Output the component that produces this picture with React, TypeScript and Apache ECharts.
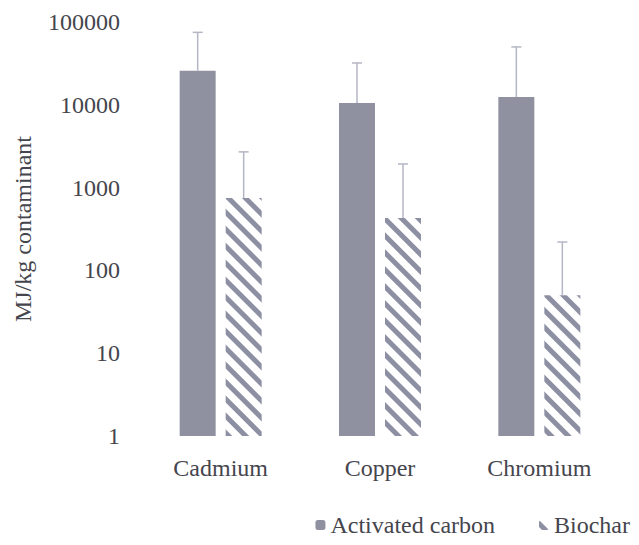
import React, { useEffect, useRef } from "react";
import * as echarts from "echarts";

const categories = ["Cadmium", "Copper", "Chromium"];
const seriesNames = ["Activated carbon", "Biochar"];
const activatedCarbon = [25700, 10500, 12400];
const activatedCarbonErrHigh = [75000, 32000, 50000];
const biochar = [750, 430, 50];
const biocharErrHigh = [2700, 1930, 220];
const yTicks = [1, 10, 100, 1000, 10000, 100000];

const FONT = "'Liberation Serif', 'Times New Roman', serif";
const TEXT = "#45454d";
const BAR_W = 36;
const BAR_GAP = 10;

export default function App() {
  const ref = useRef<HTMLDivElement>(null);
  useEffect(() => {
    if (!ref.current) return;
    const chart = echarts.init(ref.current, null, { renderer: "svg" });
    const off = (BAR_W + BAR_GAP) / 2;
    const errSeries = (vals: number[], highs: number[], dir: number, name: string) => ({
      type: "custom",
      name,
      z: 5,
      silent: true,
      data: vals.map((v, i) => [i, v, highs[i]]),
      renderItem: (params: any, api: any) => {
        const i = api.value(0);
        const lo = api.coord([i, api.value(1)]);
        const hi = api.coord([i, api.value(2)]);
        const x = lo[0] + dir * off;
        const style = { stroke: "#b4b6c4", lineWidth: 1.5 };
        return {
          type: "group",
          children: [
            { type: "line", shape: { x1: x, y1: lo[1], x2: x, y2: hi[1] }, style },
            { type: "line", shape: { x1: x - 5, y1: hi[1], x2: x + 5, y2: hi[1] }, style },
          ],
        };
      },
    });
    chart.setOption({
      animation: false,
      backgroundColor: "#ffffff",
      textStyle: { fontFamily: FONT },
      grid: { left: 141, right: 20, top: 22, bottom: 109 },
      legend: {
        data: seriesNames,
        right: 4,
        top: 508,
        itemWidth: 10,
        itemHeight: 10,
        itemGap: 44,
        textStyle: { fontFamily: FONT, fontSize: 24, color: TEXT },
      },
      xAxis: {
        type: "category",
        data: categories,
        axisLine: { show: false },
        axisTick: { show: false },
        axisLabel: { fontFamily: FONT, fontSize: 24, color: TEXT, margin: 20 },
      },
      yAxis: {
        type: "log",
        logBase: 10,
        min: 1,
        max: 100000,
        name: "MJ/kg contaminant",
        nameLocation: "middle",
        nameRotate: 90,
        nameGap: 106,
        nameTextStyle: { fontFamily: FONT, fontSize: 24, color: TEXT },
        axisLine: { show: false },
        axisTick: { show: false },
        splitLine: { show: false },
        axisLabel: {
          fontFamily: FONT,
          fontSize: 24,
          color: TEXT,
          margin: 21,
          formatter: (v: number) => (yTicks.includes(Math.round(v)) ? String(Math.round(v)) : ""),
        },
      },
      series: [
        {
          type: "bar",
          name: seriesNames[0],
          data: activatedCarbon,
          barWidth: BAR_W,
          barGap: `${(BAR_GAP / BAR_W) * 100}%`,
          itemStyle: { color: "#8f91a0" },
        },
        {
          type: "bar",
          name: seriesNames[1],
          data: biochar,
          barWidth: BAR_W,
          itemStyle: {
            color: "#ffffff",
            decal: {
              symbol: "rect",
              symbolSize: 1,
              dashArrayX: [1, 0],
              dashArrayY: [5, 7],
              rotation: Math.PI / 4,
              color: "#8d8fa3",
            },
          },
        },
        errSeries(activatedCarbon, activatedCarbonErrHigh, -1, "errAC"),
        errSeries(biochar, biocharErrHigh, 1, "errBC"),
      ],
    });
    return () => chart.dispose();
  }, []);
  return <div ref={ref} style={{ width: 639, height: 545, margin: -8 }} />;
}
